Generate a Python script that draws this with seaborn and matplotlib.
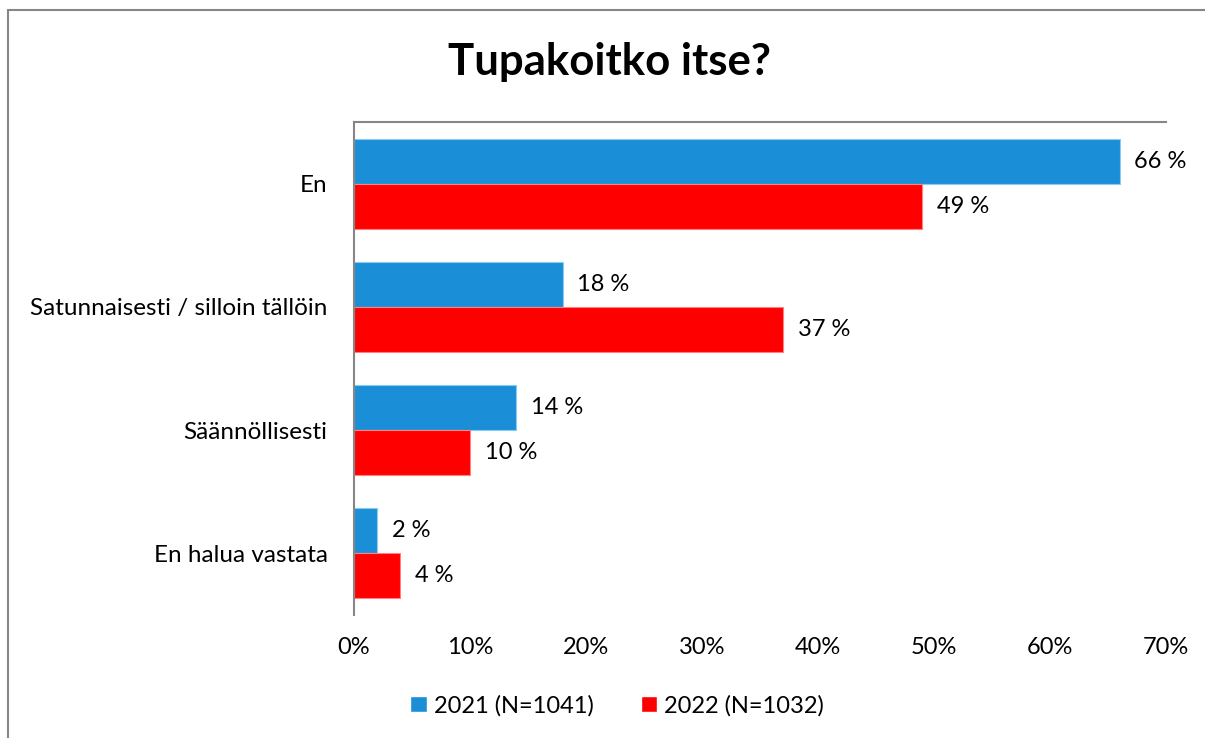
import pandas as pd
import seaborn as sns
import matplotlib.pyplot as plt
from matplotlib.patches import Rectangle

# data
categories = ['En', 'Satunnaisesti / silloin tällöin', 'Säännöllisesti', 'En halua vastata']
vals_2021 = [66, 18, 14, 2]
vals_2022 = [49, 37, 10, 4]
series = ['2021 (N=1041)', '2022 (N=1032)']
xticks = [0, 10, 20, 30, 40, 50, 60, 70]

df = pd.DataFrame({
    'kategoria': categories * 2,
    'osuus': vals_2021 + vals_2022,
    'vuosi': [series[0]] * 4 + [series[1]] * 4,
})

sns.set_style('white')
plt.rcParams['font.family'] = ['Lato', 'DejaVu Sans']
plt.rcParams['text.color'] = 'black'
plt.rcParams['xtick.color'] = 'black'
plt.rcParams['ytick.color'] = 'black'

fig = plt.figure(figsize=(12.05, 7.38), dpi=100)
ax = fig.add_axes([354 / 1205, 1 - 615 / 738, (1166 - 354) / 1205, (615 - 122) / 738])

sns.barplot(data=df, y='kategoria', x='osuus', hue='vuosi', orient='h',
            palette=['#1a8fd8', '#ff0000'], saturation=1, width=0.73, ax=ax)

edges = ['#8ccbf0', '#ff8080']
for cont, ec in zip(ax.containers, edges):
    for bar in cont:
        bar.set_edgecolor(ec)
        bar.set_linewidth(0.8)
    ax.bar_label(cont, labels=[f'{v:.0f} %' for v in cont.datavalues],
                 padding=10.5, fontsize=17, color='black')

ax.set_xlim(0, 70)
ax.set_xticks(xticks)
ax.set_xticklabels([f'{t}%' for t in xticks], fontsize=17)
ax.tick_params(axis='x', length=0, pad=16)
ax.tick_params(axis='y', length=0, pad=19, labelsize=17.5)
ax.set_xlabel('')
ax.set_ylabel('')

for s in ['right', 'bottom']:
    ax.spines[s].set_visible(False)
for s in ['top', 'left']:
    ax.spines[s].set_color('#868686')
    ax.spines[s].set_linewidth(1.5)

ax.legend(loc='center', bbox_to_anchor=(0.324, -0.184), ncol=2, frameon=False,
          fontsize=17, handlelength=0.7, handleheight=0.7, handletextpad=0.3,
          columnspacing=2.0)

fig.text(0.506, 1 - 62 / 738, 'Tupakoitko itse?', ha='center', va='center',
         fontsize=31.5, fontweight='bold')

fig.patches.append(Rectangle((8 / 1205, -0.01), 1.02, 1 - 10 / 738 + 0.01,
                             transform=fig.transFigure, fill=False,
                             edgecolor='#868686', linewidth=1.5))

fig.savefig('out.png', dpi=100)
